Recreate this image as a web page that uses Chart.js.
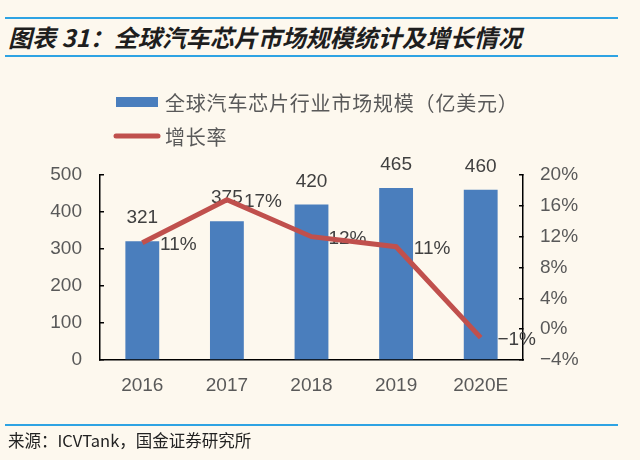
<!DOCTYPE html>
<html>
<head>
<meta charset="utf-8">
<script src="https://cdn.jsdelivr.net/npm/chart.js@4.4.1/dist/chart.umd.min.js"></script>
<style>
  html, body { margin: 0; padding: 0; background: #fdf8ee; }
  #wrap { position: relative; width: 640px; height: 460px; overflow: hidden; }
  #chart { position: absolute; left: 0; top: 0; }
  .rule { position: absolute; left: 5px; width: 613px; height: 2px; background: #2ea3e3; }
  #title {
    position: absolute; left: 8px; top: 19px; margin: 0;
    font: italic bold 24px "Noto Sans CJK SC", sans-serif; color: #1e1e1e;
    line-height: 36px; white-space: nowrap;
  }
  #source {
    position: absolute; left: 8px; top: 428px;
    font: 16.5px "Noto Sans CJK SC", sans-serif; color: #222; white-space: nowrap;
  }
</style>
</head>
<body>
<div id="wrap">
  <div class="rule" style="top:17px"></div>
  <h1 id="title">图表 31：全球汽车芯片市场规模统计及增长情况</h1>
  <div class="rule" style="top:55px"></div>
  <canvas id="chart" width="640" height="460"></canvas>
  <div class="rule" style="top:424px"></div>
  <div id="source">来源：ICVTank，国金证券研究所</div>
</div>
<script>
const years = ['2016', '2017', '2018', '2019', '2020E'];
const marketSize = [321, 375, 420, 465, 460];       // 亿美元
const growthRate = [11.2, 16.8, 12.0, 10.7, -1.1];  // %
const sizeTicks = { min: 0, max: 500, step: 100 };
const rateTicks = { min: -4, max: 20, step: 4 };

const TEXT = '#595959';
const BLUE = '#4a7ebd';
const RED = '#c0504d';
const NUM_FONT = '"Liberation Sans", Arial, sans-serif';

// percent text with a typographic minus, like the original
const pct = v => (v < 0 ? '\u2212' + Math.abs(v) : v) + '%';

// value labels: bar values above bars, rates right of points (drawn under the line)
const valueLabels = {
  id: 'valueLabels',
  afterDatasetDraw(chart, args) {
    if (args.index !== 0) return;
    const ctx = chart.ctx;
    ctx.save();
    ctx.font = '19px ' + NUM_FONT;
    ctx.fillStyle = '#404040';
    ctx.textAlign = 'center';
    ctx.textBaseline = 'middle';
    chart.getDatasetMeta(0).data.forEach((el, i) => {
      ctx.fillText(marketSize[i], el.x, el.y - 23);
    });
    chart.getDatasetMeta(1).data.forEach((el, i) => {
      ctx.fillText(pct(Math.round(growthRate[i])), el.x + 36, el.y + 2);
    });
    ctx.restore();
  }
};

// stacked legend in the upper left
const stackedLegend = {
  id: 'stackedLegend',
  afterDraw(chart) {
    const ctx = chart.ctx;
    const ds = chart.data.datasets;
    ctx.save();
    ctx.font = '20px "Noto Sans CJK SC", sans-serif';
    ctx.letterSpacing = '0.8px';
    ctx.textBaseline = 'middle';
    ctx.fillStyle = BLUE;
    ctx.fillRect(116, 97, 42, 10);
    ctx.strokeStyle = RED;
    ctx.lineWidth = 5;
    ctx.lineCap = 'round';
    ctx.beginPath();
    ctx.moveTo(116, 136);
    ctx.lineTo(158, 136);
    ctx.stroke();
    ctx.fillStyle = TEXT;
    ctx.fillText(ds[0].label, 165, 103);
    ctx.fillText(ds[1].label, 165, 137);
    ctx.restore();
  }
};

const tickFont = { family: NUM_FONT, size: 19 };

new Chart(document.getElementById('chart'), {
  type: 'bar',
  data: {
    labels: years,
    datasets: [
      {
        type: 'bar',
        label: '全球汽车芯片行业市场规模（亿美元）',
        data: marketSize,
        backgroundColor: BLUE,
        barPercentage: 0.4,
        categoryPercentage: 1,
        yAxisID: 'y',
        order: 1
      },
      {
        type: 'line',
        label: '增长率',
        data: growthRate,
        borderColor: RED,
        borderWidth: 5,
        pointRadius: 0,
        tension: 0,
        fill: false,
        yAxisID: 'y1',
        order: 0
      }
    ]
  },
  options: {
    responsive: false,
    animation: false,
    layout: { padding: { top: 175, left: 0, right: 0, bottom: 0 } },
    plugins: {
      legend: { display: false },
      tooltip: { enabled: false }
    },
    scales: {
      x: {
        grid: { display: false, drawTicks: false },
        border: { color: '#000', width: 1.5 },
        ticks: { color: TEXT, font: tickFont, padding: 14 },
        afterFit(scale) { scale.height = 100; }
      },
      y: {
        position: 'left',
        min: sizeTicks.min,
        max: sizeTicks.max,
        ticks: { stepSize: sizeTicks.step, color: TEXT, font: tickFont, padding: 22 },
        grid: { drawOnChartArea: false, drawTicks: true, tickLength: -4, color: '#000', lineWidth: 1.5 },
        border: { color: '#000', width: 1.5 },
        afterFit(scale) { scale.width = 100; }
      },
      y1: {
        position: 'right',
        min: rateTicks.min,
        max: rateTicks.max,
        ticks: {
          stepSize: rateTicks.step, color: TEXT, font: tickFont, padding: 21,
          callback: v => pct(v)
        },
        grid: { drawOnChartArea: false, drawTicks: true, tickLength: -4, color: '#000', lineWidth: 1.5 },
        border: { color: '#000', width: 1.5 },
        afterFit(scale) { scale.width = 117; }
      }
    }
  },
  plugins: [valueLabels, stackedLegend]
});
</script>
</body>
</html>
